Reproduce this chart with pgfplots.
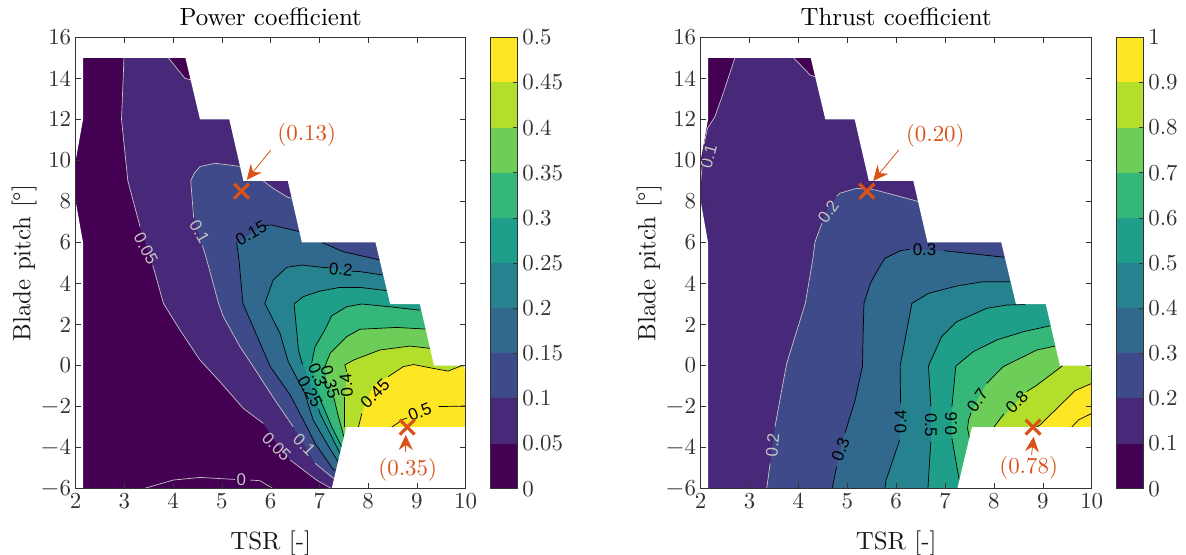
\documentclass[border=0pt]{standalone}
\usepackage{fontspec}
\setmainfont{lmroman10-regular}[Extension=.otf]
\usepackage{pgfplots}
\pgfplotsset{compat=1.18}
\usetikzlibrary{arrows.meta}
\newfontfamily\hv{Liberation Sans}
\definecolor{c1}{HTML}{440154}
\definecolor{c2}{HTML}{482878}
\definecolor{c3}{HTML}{3E4A89}
\definecolor{c4}{HTML}{31688E}
\definecolor{c5}{HTML}{26828E}
\definecolor{c6}{HTML}{1F9E89}
\definecolor{c7}{HTML}{35B779}
\definecolor{c8}{HTML}{6DCD59}
\definecolor{c9}{HTML}{B4DE2C}
\definecolor{c10}{HTML}{FDE725}
\definecolor{ann}{HTML}{D95319}
\definecolor{cgray}{HTML}{C4C4C4}
\pgfplotsset{
  every axis/.append style={
    scale only axis, axis on top,
    /pgf/number format/assume math mode=true,
    tick label style={font=\fontsize{23}{27}\selectfont,text=black!80},
    label style={font=\fontsize{25}{29}\selectfont,text=black!90},
    title style={font=\fontsize{25}{29}\selectfont,text=black},
    axis line style={black!80,line width=.7bp},
    tick style={black!80,line width=.6bp},
    tick align=inside,
    major tick length=5.5bp,
  },
  cont/.style={
    width=390bp,height=451.4bp,
    xmin=2,xmax=10,ymin=-6,ymax=16,
    xtick={2,3,...,10},ytick={-6,-4,...,16},
    yticklabels={$-$6,$-$4,$-$2,0,2,4,6,8,10,12,14,16},
    xlabel={TSR [-]},ylabel={Blade pitch [°]},
    xlabel style={yshift=-15bp},
    ylabel style={yshift=-3bp},
    title style={yshift=2bp},
    xticklabel style={yshift=-1bp},
    yticklabel style={xshift=-1bp},
  },
  bar/.style={
    width=26.6bp,height=451.4bp,xmin=0,xmax=1,
    xtick=\empty,ytick pos=right,major tick length=4bp,
    yticklabel style={xshift=1.5bp},
  },
  fa/.style={draw=none,fill=#1},
  lb/.style={black,line width=.7bp},
  lg/.style={cgray,line width=.7bp},
  mk/.style={only marks,mark=x,mark size=10.5bp,ann,line width=3.2bp},
  ar/.style={ann,line width=.8bp,-{Stealth[length=15bp,width=14bp,inset=5bp]}},
}
\newcommand{\cl}[4]{\node[font=\hv\fontsize{17}{19}\selectfont,text=#1,rotate=#2,inner sep=0pt] at (axis cs:#3) {#4};}
\newcommand{\masks}{%
  \addplot[fa=white] coordinates {(2,16)(2,10)(2.15,12)(2.15,15)(4.25,15)(4.55,12)(5.15,12)(5.44,9)(6.35,9)(6.64,6)(8.15,6)(8.45,3)(9.06,3)(9.35,0)(9.95,0)(10,-0.3)(10,16)} --cycle;
  \addplot[fa=white] coordinates {(10,-3)(7.55,-3)(7.25,-6)(10,-6)} --cycle;
  \addplot[fa=white] coordinates {(2,8)(2.15,6)(2.15,-6)(2,-6)} --cycle;
}
\begin{document}
\begin{tikzpicture}[x=1bp,y=1bp]
\useasboundingbox (0,0) rectangle (1186,555);

% ---------- left: power coefficient
\begin{axis}[cont,at={(75.7bp,66.3bp)},anchor=south west,title={Power coefficient}]
\addplot[fa=c1] coordinates {(2,-6)(10,-6)(10,16)(2,16)} --cycle;
\addplot[fa=c2] coordinates {(2.99,15)(3.9,15)(4.24,14)(4.4,13.9)(10,13.9)(10,-6)(7.25,-6)(6.94,-5.58)(6.4,-4.6)(6.12,-3.8)(5.85,-2.82)(5.44,-2.09)(4.96,-0.79)(4.55,0.27)(4.14,1.73)(3.8,3.03)(3.58,4.9)(3.32,6.77)(3.07,9)(2.94,12)} --cycle;
\addplot[fa=c3] coordinates {(6.43,8.15)(6.05,8.64)(5.85,9)(5.8,10)(5.39,9.7)(4.86,9.86)(4.55,9.7)(4.43,9.37)(4.36,9)(4.45,7.1)(4.58,5.9)(4.69,5.14)(4.93,3.03)(5.03,2.38)(5.37,0.92)(5.71,-0.3)(6.05,-1.55)(6.46,-2.98)(6.91,-4.76)(7.29,-5.5)(7.5,-5.5)(7.6,-6)(10,-6)(10,8.15)} --cycle;
\addplot[fa=c4] coordinates {(6.59,6.53)(6.02,6.85)(5.85,6.83)(5.3,5.96)(5.35,5.14)(5.43,3.03)(5.99,-0.05)(6.4,-1.43)(6.74,-2.98)(6.91,-3.79)(7.29,-5.09)(7.5,-5.09)(7.6,-6)(10,-6)(10,5.15)(8.23,5.15)(7.49,5.55)(7.05,6)(7.05,6.53)} --cycle;
\addplot[fa=c5] coordinates {(8.31,4.41)(7.83,4.58)(7.05,4.79)(6.64,4.9)(6.33,4.79)(6.05,4.17)(5.99,3.76)(5.88,3.03)(6.19,1.57)(6.36,0.19)(6.7,-1.35)(6.87,-2.65)(7.15,-3.79)(7.38,-4.68)(7.6,-4.68)(7.6,-6)(10,-6)(10,4.41)} --cycle;
\addplot[fa=c6] coordinates {(8.38,3.65)(7.83,3.81)(7.42,3.81)(7.01,3.63)(6.67,3.36)(6.48,3)(6.57,0.76)(6.67,0.11)(6.72,-0.3)(7.01,-2.33)(7.25,-3.46)(7.42,-4.28)(7.7,-4.28)(7.7,-6)(10,-6)(10,3.65)} --cycle;
\addplot[fa=c7] coordinates {(9.06,2.7)(8.5,2.85)(7.87,3)(7.56,2.87)(7.25,2.42)(7.11,1.73)(6.91,0.92)(6.84,0.11)(6.95,-1)(7.08,-2)(7.25,-2.98)(7.455,-3.95)(7.7,-3.95)(7.7,-6)(10,-6)(10,2.7)} --cycle;
\addplot[fa=c8] coordinates {(9.17,1.78)(8.58,1.86)(7.83,1.77)(7.56,1.41)(7.22,0.6)(7.11,-0.05)(7.15,-0.7)(7.29,-1.51)(7.38,-2.4)(7.5,-3.46)(7.7,-3.46)(7.7,-6)(10,-6)(10,1.78)} --cycle;
\addplot[fa=c9] coordinates {(9.27,0.84)(8.86,0.95)(8.24,0.76)(7.7,0.27)(7.52,0.03)(7.56,-0.46)(7.52,-1.52)(7.52,-3)(7.7,-6)(10,-6)(10,0.84)} --cycle;
\addplot[fa=c10] coordinates {(10,-0.05)(9.95,0)(9.92,0)(9.64,-0.27)(9.34,-0.14)(8.93,0.05)(8.72,-0.05)(8.41,-0.54)(8.1,-1)(7.87,-2.33)(7.8,-3)(7.8,-6)(10,-6)} --cycle;
% contour lines
\addplot[lg] coordinates {(3.39,-6)(4,-5.58)(4.55,-5.45)(5.27,-5.55)};
\addplot[lg] coordinates {(5.58,-5.58)(5.78,-5.61)(6.05,-6)};
\addplot[lg] coordinates {(2.99,15)(2.94,12)(3.07,9)(3.32,6.77)};
\addplot[lg] coordinates {(3.58,4.9)(3.8,3.03)(4.14,1.73)(4.55,0.27)(4.96,-0.79)(5.44,-2.09)(5.85,-2.82)};
\addplot[lg] coordinates {(6.4,-4.6)(6.94,-5.58)(7.25,-6)};
\addplot[lg] coordinates {(3.9,15)(4.24,14)(4.4,13.9)};
\addplot[lg] coordinates {(5.39,9.7)(4.86,9.86)(4.55,9.7)(4.43,9.37)(4.36,9)(4.42,7.2)};
\addplot[lg] coordinates {(4.6,5.85)(4.69,5.14)(4.93,3.03)(5.03,2.38)(5.37,0.92)(5.71,-0.3)(6.05,-1.55)(6.46,-2.98)};
\addplot[lg] coordinates {(6.91,-4.76)(7.29,-5.5)};
\addplot[lg] coordinates {(5.85,9)(6.05,8.64)(6.35,8.2)(6.43,8.15)};
\addplot[lb] coordinates {(6.59,6.53)(6.02,6.85)(5.88,6.83)};
\addplot[lb] coordinates {(5.3,6)(5.35,5.14)(5.43,3.03)(5.99,-0.05)(6.4,-1.43)(6.74,-2.98)(6.91,-3.79)(7.29,-5.09)(7.36,-5.09)};
\addplot[lb] coordinates {(7.05,6)(7.49,5.55)(8.23,5.15)};
\addplot[lb] coordinates {(8.31,4.41)(7.83,4.58)(7.66,4.6)};
\addplot[lb] coordinates {(7.2,4.77)(7.05,4.79)(6.64,4.9)(6.33,4.79)(6.05,4.17)(5.99,3.76)(5.88,3.03)(6.19,1.57)(6.36,0.19)(6.7,-1.35)(6.87,-2.65)(7.15,-3.79)(7.38,-4.68)};
\addplot[lb] coordinates {(8.38,3.65)(7.83,3.81)(7.42,3.81)(7.01,3.63)(6.67,3.36)(6.48,3)(6.57,0.76)(6.65,0.05)};
\addplot[lb] coordinates {(6.98,-2.1)(7.01,-2.33)(7.25,-3.46)(7.42,-4.28)};
\addplot[lb] coordinates {(9.06,2.7)(8.5,2.85)(7.87,3)(7.56,2.87)(7.25,2.42)(7.11,1.73)(6.91,0.92)(6.84,0.11)};
\addplot[lb] coordinates {(7.02,-1.7)(7.08,-2)(7.25,-2.98)(7.455,-3.95)};
\addplot[lb] coordinates {(9.17,1.78)(8.58,1.86)(7.83,1.77)(7.56,1.41)(7.22,0.6)(7.11,-0.05)};
\addplot[lb] coordinates {(7.29,-1.51)(7.38,-2.4)(7.5,-3.46)};
\addplot[lb] coordinates {(9.27,0.84)(8.86,0.95)(8.24,0.76)(7.7,0.27)(7.52,0.03)(7.56,-0.3)};
\addplot[lb] coordinates {(7.52,-1.52)(7.52,-3)};
\addplot[lb] coordinates {(7.8,-3)(7.87,-2.33)};
\addplot[lb] coordinates {(8.41,-0.54)(8.72,-0.05)(8.93,0.05)(9.34,-0.14)(9.64,-0.27)(9.92,0)(10,-0.05)};
\addplot[lb] coordinates {(8.48,-3)(8.72,-2.62)(8.8,-2.55)};
\addplot[lb] coordinates {(9.44,-2)(10,-1.97)};
\masks
% annotations
\addplot[ar] coordinates {(6,10.5)(5.51,9.05)};
\addplot[ar] coordinates {(8.77,-4.2)(8.77,-3.38)};
\addplot[mk] coordinates {(5.4,8.5)(8.8,-3)};
% contour labels
\cl{cgray}{0}{5.4,-5.55}{0}
\cl{cgray}{-62}{3.44,5.7}{0.05}
\cl{cgray}{-45}{6.12,-3.95}{0.05}
\cl{cgray}{-60}{4.54,6.53}{0.1}
\cl{cgray}{-45}{6.69,-3.87}{0.1}
\cl{black}{30}{5.6,6.45}{0.15}
\cl{black}{-5}{7.44,4.69}{0.2}
\cl{black}{-60}{6.81,-1.27}{0.25}
\cl{black}{-67}{6.96,-0.46}{0.3}
\cl{black}{-75}{7.22,-0.79}{0.35}
\cl{black}{95}{7.55,-0.95}{0.4}
\cl{black}{45}{8.14,-1.35}{0.45}
\cl{black}{22}{9.06,-2.25}{0.5}
\node[font=\fontsize{23}{27}\selectfont,text=ann] at (axis cs:6.74,11.24) {(0.13)};
\node[font=\fontsize{23}{27}\selectfont,text=ann] at (axis cs:8.81,-5.06) {(0.35)};
\end{axis}

% ---------- left colorbar
\begin{axis}[bar,at={(490.7bp,66.3bp)},anchor=south west,ymin=0,ymax=0.5,
  ytick={0,0.05,...,0.5},yticklabels={0,0.05,0.1,0.15,0.2,0.25,0.3,0.35,0.4,0.45,0.5}]
\addplot[fa=c1] coordinates {(0,0)(1,0)(1,0.05)(0,0.05)} --cycle;
\addplot[fa=c2] coordinates {(0,0.05)(1,0.05)(1,0.1)(0,0.1)} --cycle;
\addplot[fa=c3] coordinates {(0,0.1)(1,0.1)(1,0.15)(0,0.15)} --cycle;
\addplot[fa=c4] coordinates {(0,0.15)(1,0.15)(1,0.2)(0,0.2)} --cycle;
\addplot[fa=c5] coordinates {(0,0.2)(1,0.2)(1,0.25)(0,0.25)} --cycle;
\addplot[fa=c6] coordinates {(0,0.25)(1,0.25)(1,0.3)(0,0.3)} --cycle;
\addplot[fa=c7] coordinates {(0,0.3)(1,0.3)(1,0.35)(0,0.35)} --cycle;
\addplot[fa=c8] coordinates {(0,0.35)(1,0.35)(1,0.4)(0,0.4)} --cycle;
\addplot[fa=c9] coordinates {(0,0.4)(1,0.4)(1,0.45)(0,0.45)} --cycle;
\addplot[fa=c10] coordinates {(0,0.45)(1,0.45)(1,0.5)(0,0.5)} --cycle;
\end{axis}

% ---------- right: thrust coefficient
\begin{axis}[cont,at={(700.7bp,66.3bp)},anchor=south west,width=391bp,title={Thrust coefficient}]
\addplot[fa=c1] coordinates {(2,-6)(10,-6)(10,16)(2,16)} --cycle;
\addplot[fa=c2] coordinates {(2,9)(2.05,10.67)(2.14,11.57)(2.29,12.13)(2.46,13.27)(2.7,15)(3.9,15)(4.24,14.16)(4.34,14.08)(10,14.08)(10,-6)(2,-6)} --cycle;
\addplot[fa=c3] coordinates {(6.45,8)(5.57,8.56)(5.19,8.64)(4.85,8.4)(4.6,7.7)(4.48,6.94)(4.34,6.04)(4.29,5.14)(4.14,3.03)(3.97,1.73)(3.76,0.11)(3.62,-1.68)(3.52,-2.98)(3.42,-4.77)(3.35,-6)(10,-6)(10,8)} --cycle;
\addplot[fa=c4] coordinates {(8.21,5.28)(6.97,5.6)(6.28,5.67)(6.08,5.6)(5.77,5.23)(5.64,4.74)(5.47,4)(5.34,3.03)(5.32,1.24)(5.31,-0.02)(5.16,-1.68)(4.95,-3.3)(4.78,-4.93)(4.69,-6)(10,-6)(10,5.28)} --cycle;
\addplot[fa=c5] coordinates {(8.33,4.09)(7.78,4.09)(7.24,3.88)(6.66,3.52)(6.32,3.03)(6.08,-0.02)(6.09,-1.84)(6.07,-3.63)(5.79,-5.6)(5.77,-6)(10,-6)(10,4.09)} --cycle;
\addplot[fa=c6] coordinates {(10,3.2)(8.7,3.2)(8.64,2.98)(8.26,2.95)(7.85,2.79)(7.24,2.14)(6.93,1.41)(6.66,-0.02)(6.71,-2)(6.71,-3.71)(6.68,-4.77)(6.65,-6)(10,-6)} --cycle;
\addplot[fa=c7] coordinates {(9.15,1.94)(8.6,1.65)(8.06,1.25)(7.58,0.68)(7.22,-0.02)(7.14,-2)(7.14,-3.55)(7.29,-5.58)(7.6,-6)(10,-6)(10,1.94)} --cycle;
\addplot[fa=c8] coordinates {(9.25,0.95)(8.88,0.76)(8.19,-0.05)(7.85,-0.87)(7.66,-1.68)(7.48,-2.65)(7.46,-3.06)(7.5,-3.55)(7.7,-6)(10,-6)(10,0.95)} --cycle;
\addplot[fa=c9] coordinates {(10,0.3)(9.5,0.3)(9.41,0)(8.88,-0.95)(8.6,-1.4)(8.23,-2.41)(8,-2.98)(8,-6)(10,-6)} --cycle;
\addplot[fa=c10] coordinates {(10,-0.87)(9.66,-1.22)(9.42,-1.78)(8.94,-2.9)(8.87,-3)(8.87,-6)(10,-6)} --cycle;
% contour lines
\addplot[lg] coordinates {(2,9)(2.03,9.7)};
\addplot[lg] coordinates {(2.07,10.8)(2.14,11.57)(2.29,12.13)(2.46,13.27)(2.7,15)};
\addplot[lg] coordinates {(3.9,15)(4.24,14.16)(4.34,14.08)};
\addplot[lg] coordinates {(6.45,8)(5.57,8.56)(5.19,8.64)(4.85,8.4)(4.78,8.25)};
\addplot[lg] coordinates {(4.48,6.94)(4.34,6.04)(4.29,5.14)(4.14,3.03)(3.97,1.73)(3.76,0.11)(3.62,-1.68)(3.52,-2.98)};
\addplot[lg] coordinates {(3.42,-4.77)(3.35,-6)};
\addplot[lb] coordinates {(8.21,5.28)(6.97,5.6)};
\addplot[lb] coordinates {(6.28,5.67)(6.08,5.6)(5.77,5.23)(5.64,4.74)(5.47,4)(5.34,3.03)(5.32,1.24)(5.31,-0.02)(5.16,-1.68)(4.95,-3.3)};
\addplot[lb] coordinates {(4.78,-4.93)(4.69,-6)};
\addplot[lb] coordinates {(8.33,4.09)(7.78,4.09)(7.24,3.88)(6.66,3.52)(6.32,3.03)(6.08,-0.02)(6.09,-1.84)};
\addplot[lb] coordinates {(6.07,-3.63)(5.79,-5.6)(5.77,-6)};
\addplot[lb] coordinates {(8.64,2.98)(8.26,2.95)(7.85,2.79)(7.24,2.14)(6.93,1.41)(6.66,-0.02)(6.71,-2)};
\addplot[lb] coordinates {(6.71,-3.71)(6.68,-4.77)(6.65,-6)};
\addplot[lb] coordinates {(9.15,1.94)(8.6,1.65)(8.06,1.25)(7.58,0.68)(7.22,-0.02)(7.14,-2)};
\addplot[lb] coordinates {(7.14,-3.55)(7.29,-5.58)};
\addplot[lb] coordinates {(9.25,0.95)(8.88,0.76)(8.19,-0.05)(7.85,-0.87)};
\addplot[lb] coordinates {(7.53,-2.3)(7.48,-2.65)(7.46,-3.06)(7.5,-3.55)};
\addplot[lb] coordinates {(9.41,0)(8.88,-0.95)(8.67,-1.27)};
\addplot[lb] coordinates {(8.2,-2.35)(8,-3)};
\addplot[lb] coordinates {(10,-0.87)(9.66,-1.22)(9.42,-1.78)(8.94,-2.9)(8.87,-3)};
\addplot[lb] coordinates {(10,-2.33)(9.73,-2.65)(9.59,-3)};
\masks
% annotations
\addplot[ar] coordinates {(6.05,10.5)(5.53,9)};
\addplot[ar] coordinates {(8.77,-4.36)(8.81,-3.47)};
\addplot[mk] coordinates {(5.4,8.5)(8.8,-3)};
% contour labels
\cl{cgray}{75}{2.16,10.2}{0.1}
\cl{cgray}{55}{4.61,7.5}{0.2}
\cl{cgray}{85}{3.47,-3.87}{0.2}
\cl{black}{0}{6.58,5.64}{0.3}
\cl{black}{70}{4.86,-4.1}{0.3}
\cl{black}{90}{6.09,-2.73}{0.4}
\cl{black}{-90}{6.71,-2.9}{0.5}
\cl{black}{90}{7.12,-2.82}{0.6}
\cl{black}{55}{7.66,-1.68}{0.7}
\cl{black}{45}{8.47,-1.76}{0.8}
\node[font=\fontsize{23}{27}\selectfont,text=ann] at (axis cs:6.8,11.2) {(0.20)};
\node[font=\fontsize{23}{27}\selectfont,text=ann] at (axis cs:8.71,-4.96) {(0.78)};
\end{axis}

% ---------- right colorbar
\begin{axis}[bar,at={(1116.7bp,66.3bp)},anchor=south west,ymin=0,ymax=1,
  ytick={0,0.1,...,1},yticklabels={0,0.1,0.2,0.3,0.4,0.5,0.6,0.7,0.8,0.9,1}]
\addplot[fa=c1] coordinates {(0,0)(1,0)(1,0.1)(0,0.1)} --cycle;
\addplot[fa=c2] coordinates {(0,0.1)(1,0.1)(1,0.2)(0,0.2)} --cycle;
\addplot[fa=c3] coordinates {(0,0.2)(1,0.2)(1,0.3)(0,0.3)} --cycle;
\addplot[fa=c4] coordinates {(0,0.3)(1,0.3)(1,0.4)(0,0.4)} --cycle;
\addplot[fa=c5] coordinates {(0,0.4)(1,0.4)(1,0.5)(0,0.5)} --cycle;
\addplot[fa=c6] coordinates {(0,0.5)(1,0.5)(1,0.6)(0,0.6)} --cycle;
\addplot[fa=c7] coordinates {(0,0.6)(1,0.6)(1,0.7)(0,0.7)} --cycle;
\addplot[fa=c8] coordinates {(0,0.7)(1,0.7)(1,0.8)(0,0.8)} --cycle;
\addplot[fa=c9] coordinates {(0,0.8)(1,0.8)(1,0.9)(0,0.9)} --cycle;
\addplot[fa=c10] coordinates {(0,0.9)(1,0.9)(1,1)(0,1)} --cycle;
\end{axis}
\end{tikzpicture}
\end{document}
